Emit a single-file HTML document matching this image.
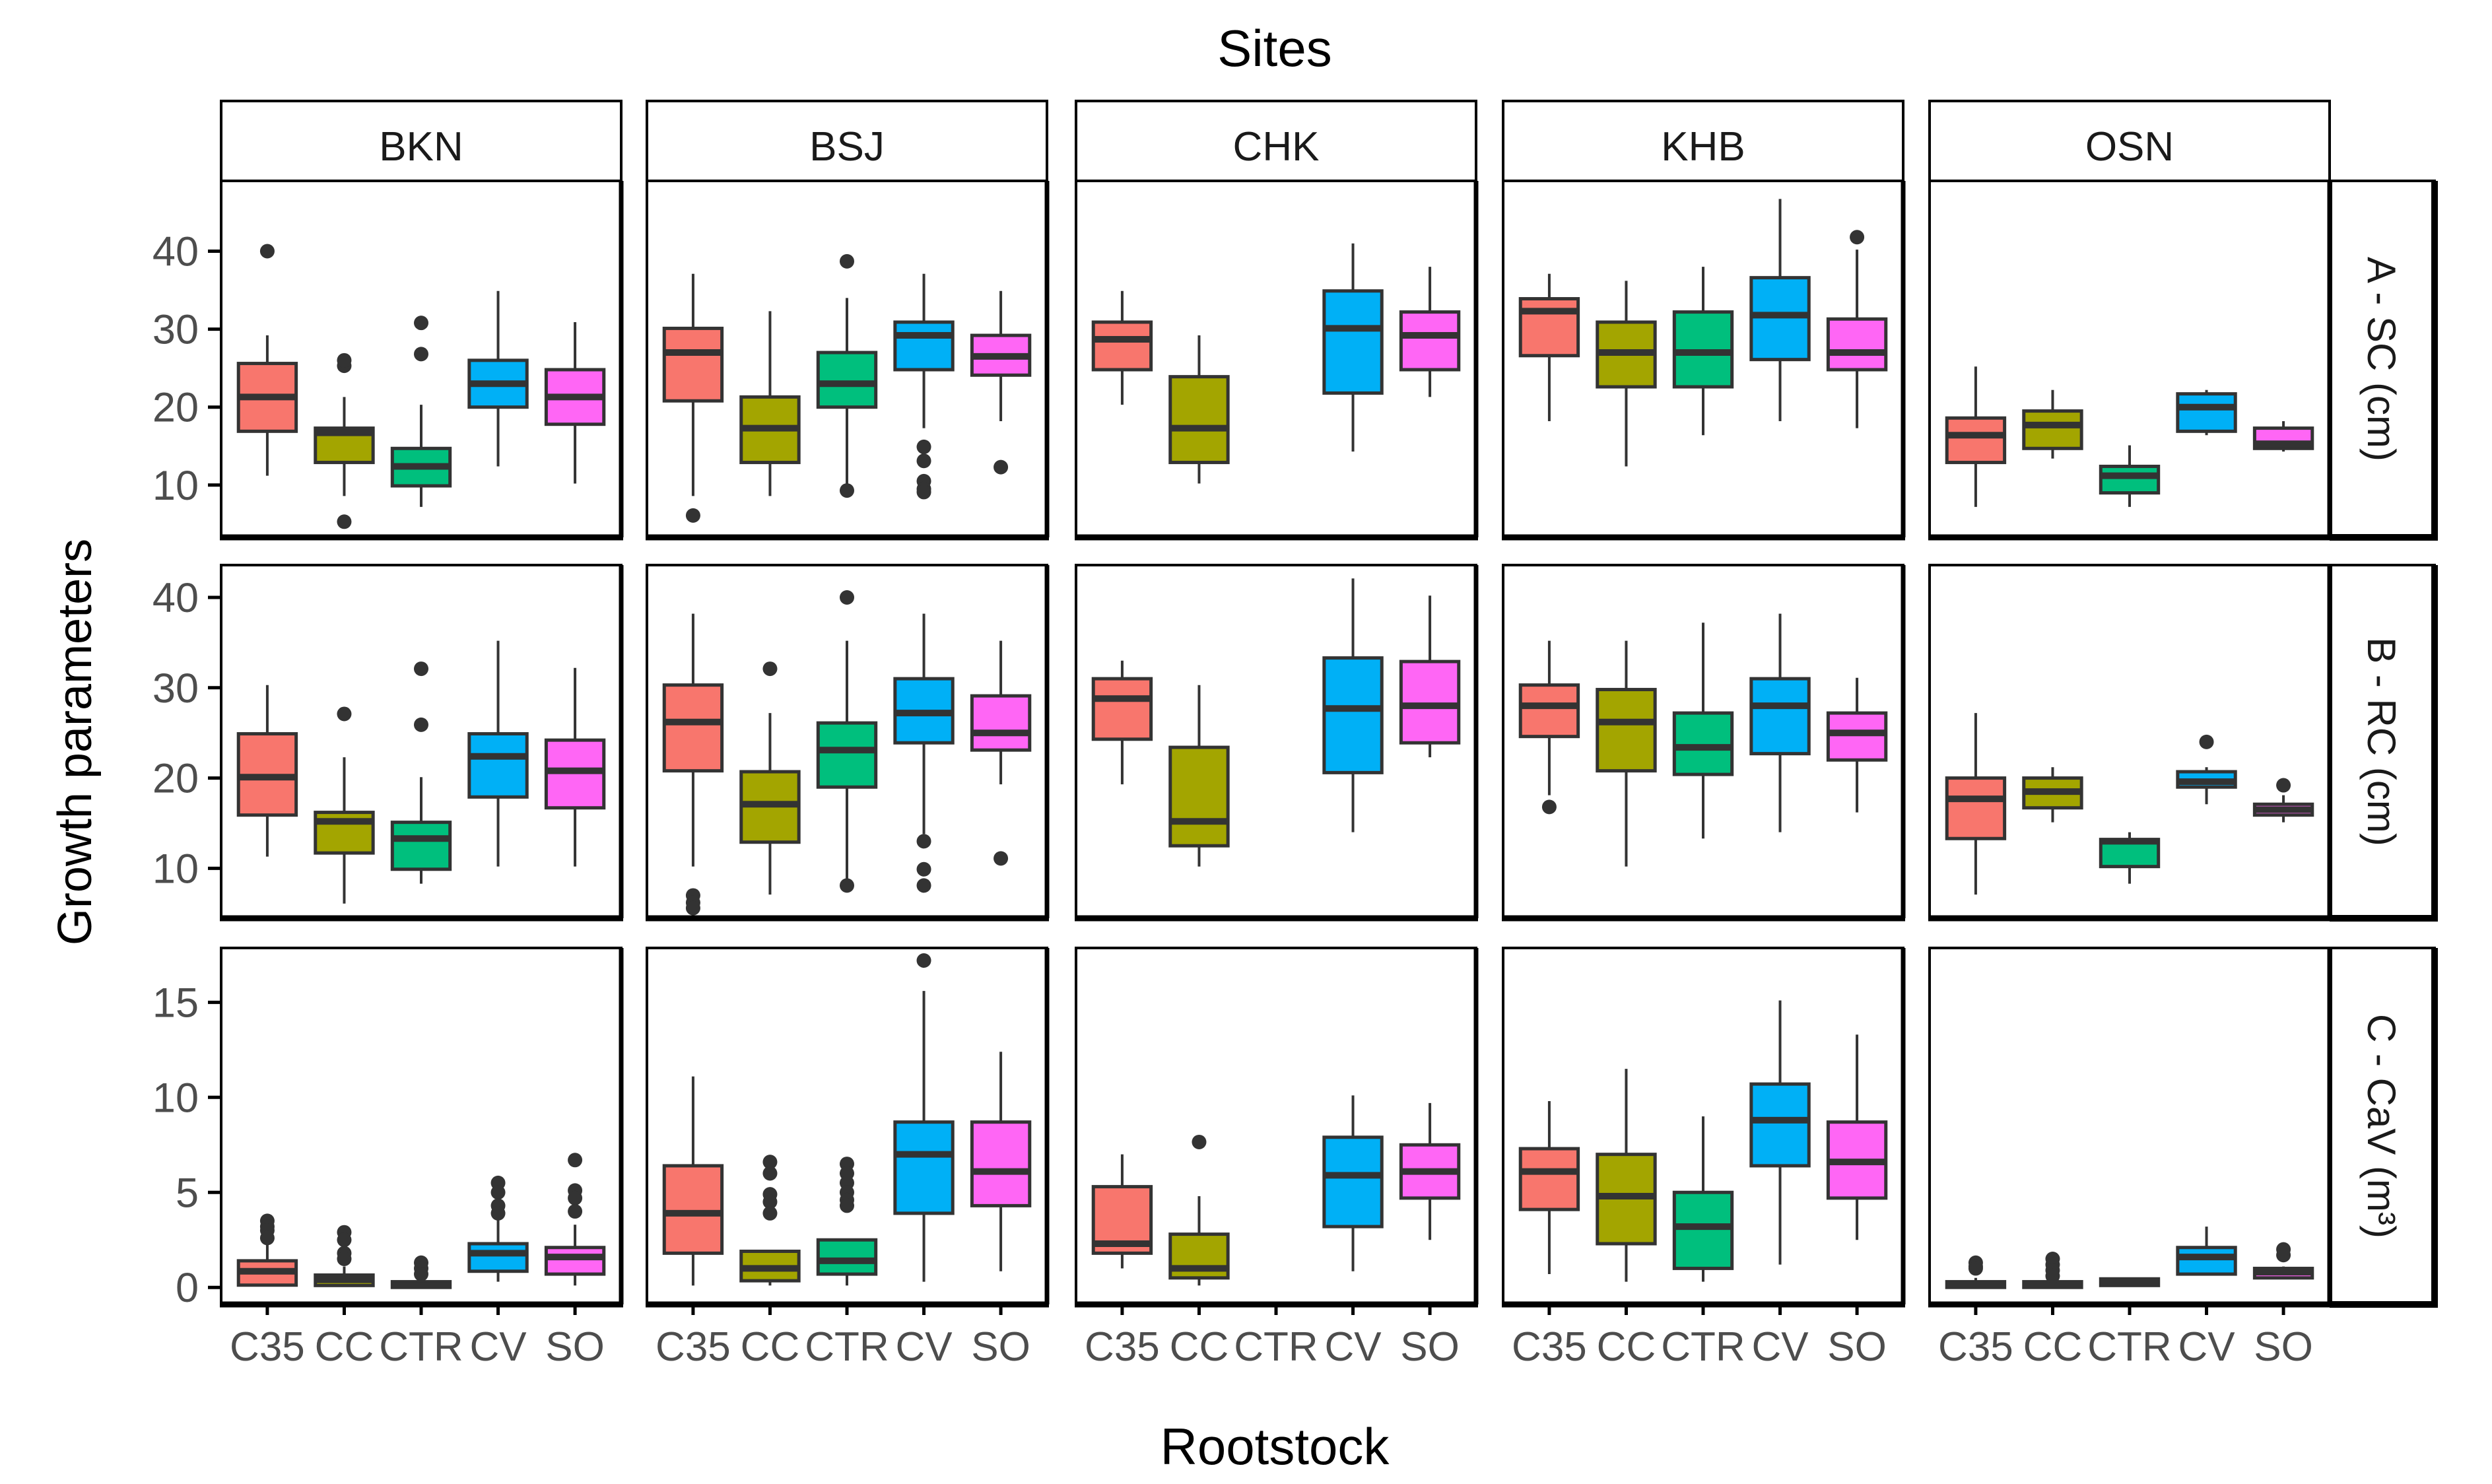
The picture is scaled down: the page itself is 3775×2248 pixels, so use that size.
<!DOCTYPE html>
<html><head><meta charset="utf-8">
<style>
html,body{margin:0;padding:0;background:#fff;}
svg{display:block;}
text{font-family:"Liberation Sans",sans-serif;}
</style></head>
<body>
<svg id="chart" width="3775" height="2248" viewBox="0 0 3775 2248" xmlns="http://www.w3.org/2000/svg">
<rect x="0" y="0" width="3775" height="2248" fill="#fff"/>
<text x="1931" y="100" font-size="78" text-anchor="middle" fill="#000">Sites</text>
<text x="1931" y="2218" font-size="78" text-anchor="middle" fill="#000">Rootstock</text>
<text x="0" y="0" font-size="72" text-anchor="middle" fill="#000" transform="translate(138,1124) rotate(-90)">Growth parameters</text>
<g id="plot"></g>
</svg>
<script>
const sites = ["BKN","BSJ","CHK","KHB","OSN"];
const categories = ["C35","CC","CTR","CV","SO"];
const rowLabels = ["A - SC (cm)","B - RC (cm)","C - CaV (m\u00b3)"];
const fills = ["#F8766D","#A3A500","#00BF7D","#00B0F6","#FF66F5"];

// Row A - SC: [site][category]
const scLow  = [[11.2,8.6,7.2,12.4,10.2],[8.6,8.6,9.3,17.3,18.2],[20.3,10.2,null,14.3,21.3],[18.2,12.4,16.4,18.2,17.3],[7.2,13.4,7.2,16.4,14.3]];
const scQ1   = [[16.9,12.9,9.9,20.0,17.8],[20.8,12.9,20.0,24.8,24.1],[24.8,12.9,null,21.8,24.8],[26.6,22.6,22.6,26.1,24.8],[12.9,14.7,9.0,16.9,14.7]];
const scMed  = [[21.3,16.7,12.4,23.0,21.3],[27.0,17.3,23.0,29.2,26.5],[28.7,17.3,null,30.1,29.2],[32.3,27.0,27.0,31.8,27.0],[16.4,17.7,11.2,20.0,15.3]];
const scQ3   = [[25.6,17.3,14.7,26.0,24.8],[30.1,21.3,27.0,30.9,29.2],[30.9,23.9,null,34.9,32.2],[33.9,30.9,32.2,36.6,31.3],[18.6,19.5,12.4,21.7,17.3]];
const scHigh = [[29.2,21.3,20.3,34.9,30.9],[37.1,32.3,34.0,37.1,34.9],[34.9,29.2,null,41.0,38.0],[37.1,36.2,38.0,46.7,40.2],[25.2,22.2,15.1,22.2,18.2]];
const scOut  = [[[40],[25.3,26,5.3],[30.8,26.8],[],[]],[[6.1],[],[38.7,9.3],[14.9,13.1,10.5,9.5,9.1],[12.3]],[[],[],[],[],[]],[[],[],[],[],[41.8]],[[],[],[],[],[]]];

// Row B - RC
const rcLow  = [[11.3,6.1,8.3,10.2,10.2],[10.2,7.1,8.1,13.8,19.3],[19.3,10.2,null,14.0,22.3],[18.1,10.2,13.3,14.0,16.2],[7.1,15.1,8.3,17.1,15.1]];
const rcQ1   = [[15.9,11.7,9.9,17.9,16.7],[20.8,12.9,19.0,23.9,23.1],[24.3,12.5,null,20.6,23.9],[24.6,20.8,20.4,22.7,22.0],[13.3,16.7,10.2,19.0,15.9]];
const rcMed  = [[20.1,15.2,13.3,22.4,20.8],[26.2,17.1,23.1,27.2,25.0],[28.8,15.2,null,27.7,28.0],[28.0,26.2,23.4,28.0,25.0],[17.7,18.5,13.0,19.6,16.5]];
const rcQ3   = [[24.9,16.2,15.1,24.9,24.2],[30.3,20.7,26.1,31.0,29.1],[31.0,23.4,null,33.3,32.9],[30.3,29.8,27.2,31.0,27.2],[20.0,20.0,13.2,20.7,17.1]];
const rcHigh = [[30.3,22.3,20.1,35.2,32.2],[38.2,27.2,35.2,38.2,35.2],[33.0,30.3,null,42.1,40.2],[35.2,35.2,37.2,38.2,31.1],[27.2,21.2,14.0,21.2,18.1]];
const rcOut  = [[[],[27.1],[32.1,25.9],[],[]],[[7.0,6.2,5.6],[32.1],[40.0,8.1],[13.0,9.9,8.1],[11.1]],[[],[],[],[],[]],[[16.8],[],[],[],[]],[[],[],[],[24.0],[19.2]]];

// Row C - CaV
const cvLow  = [[0.05,0.1,0.0,0.3,0.1],[0.1,0.1,0.1,0.3,0.85],[1.0,0.1,null,0.85,2.5],[0.7,0.3,0.3,1.2,2.5],[0.0,0.0,0.1,0.7,0.5]];
const cvQ1   = [[0.12,0.1,0.0,0.85,0.7],[1.8,0.35,0.7,3.9,4.3],[1.8,0.5,null,3.2,4.7],[4.1,2.3,1.0,6.4,4.7],[0.0,0.0,0.1,0.7,0.5]];
const cvMed  = [[0.85,0.4,0.1,1.8,1.6],[3.9,1.0,1.4,7.0,6.1],[2.3,1.0,null,5.9,6.1],[6.1,4.8,3.2,8.8,6.6],[0.15,0.15,0.3,1.6,0.8]];
const cvQ3   = [[1.4,0.65,0.3,2.3,2.1],[6.4,1.9,2.5,8.7,8.7],[5.3,2.8,null,7.9,7.5],[7.3,7.0,5.0,10.7,8.7],[0.3,0.3,0.45,2.1,1.0]];
const cvHigh = [[2.3,1.1,0.6,3.75,3.3],[11.1,1.9,2.5,15.6,12.4],[7.0,4.8,null,10.1,9.7],[9.8,11.5,9.0,15.1,13.3],[0.5,0.6,0.45,3.2,1.1]];
const cvOut  = [[[3.5,3.2,3.0,2.6],[2.9,2.5,1.8,1.5],[1.3,1.0,0.7],[5.5,5.0,4.3,3.9],[6.7,5.1,4.7,4.0]],
                [[],[6.6,6.0,4.9,4.5,3.9],[6.5,6.0,5.5,5.0,4.6,4.3],[17.2],[]],
                [[],[7.65],[],[],[]],
                [[],[],[],[],[]],
                [[1.3,1.1,1.0],[1.5,1.2,0.9,0.6],[],[],[2.0,1.7]]];

const yTicksA = [10,20,30,40];
const yTicksB = [10,20,30,40];
const yTicksC = [0,5,10,15];

const NS = "http://www.w3.org/2000/svg";
const g = document.getElementById("plot");
function mk(tag, attrs, parent){
  const e = document.createElementNS(NS, tag);
  for (const k in attrs) e.setAttribute(k, attrs[k]);
  (parent||g).appendChild(e);
  return e;
}

const colLeft = [335, 980, 1630, 2277, 2923];
const panelW = 606;
const rowTop = [274, 856, 1436];
const rowBot = [814, 1391, 1976];
// y scales (pixel at reference value, px per unit)
const yRef = [{v:40,p:380.5,k:11.81},{v:40,p:905,k:13.68},{v:0,p:1950.2,k:28.79}];
function yScale(r, v){ return yRef[r].p - (v - yRef[r].v) * yRef[r].k; }
function xScale(c, i){ return colLeft[c] + (0.6 + i) * panelW / 5.2; }
const boxW = 0.75 * panelW / 5.2;

const rowsData = [
  {low:scLow,q1:scQ1,med:scMed,q3:scQ3,high:scHigh,out:scOut,ticks:yTicksA},
  {low:rcLow,q1:rcQ1,med:rcMed,q3:rcQ3,high:rcHigh,out:rcOut,ticks:yTicksB},
  {low:cvLow,q1:cvQ1,med:cvMed,q3:cvQ3,high:cvHigh,out:cvOut,ticks:yTicksC}
];

// top strips
sites.forEach((s, c) => {
  const r = mk("rect", {x:colLeft[c], y:153, width:panelW, height:rowTop[0]-153, fill:"#fff", stroke:"#000", "stroke-width":4});
  
  
  const t = mk("text", {x:colLeft[c]+panelW/2, y:243, "font-size":62, "text-anchor":"middle", fill:"#1a1a1a"});
  t.textContent = s;
  
  
});

rowsData.forEach((D, r) => {
  const top = rowTop[r], bot = rowBot[r];
  // right strip
  const rs = mk("rect", {x:3531, y:top, width:157, height:bot-top, fill:"#fff", stroke:"#000", "stroke-width":4});
  
  
  mk("line", {x1:3688, y1:top, x2:3688, y2:bot+4, stroke:"#000", "stroke-width":10});
  mk("line", {x1:3529, y1:bot, x2:3693, y2:bot, stroke:"#000", "stroke-width":10});
  const rl = mk("text", {x:0, y:0, "font-size":60, "text-anchor":"middle", fill:"#1a1a1a",
    transform:"translate(3587," + ((top+bot)/2) + ") rotate(90)"});
  rl.textContent = rowLabels[r];
  
  

  // y ticks
  D.ticks.forEach(v => {
    const y = yScale(r, v);
    const tk = mk("line", {x1:315, y1:y, x2:335, y2:y, stroke:"#000", "stroke-width":5});
    
    
    const tl = mk("text", {x:301, y:y+22, "font-size":63, "text-anchor":"end", fill:"#4d4d4d"});
    tl.textContent = v;
    
    
  });

  sites.forEach((s, c) => {
    const pg = mk("g", {});
    
    
    mk("rect", {x:colLeft[c], y:top, width:panelW, height:bot-top, fill:"#fff", stroke:"#000", "stroke-width":4}, pg);
    mk("line", {x1:colLeft[c]+panelW, y1:top, x2:colLeft[c]+panelW, y2:bot, stroke:"#000", "stroke-width":7}, pg);
    mk("line", {x1:colLeft[c]-2, y1:bot, x2:colLeft[c]+panelW+3, y2:bot, stroke:"#000", "stroke-width":9}, pg);

    categories.forEach((cat, i) => {
      if (D.med[c][i] === null) return;
      const x = xScale(c, i);
      const bg = mk("g", {}, pg);
      
      
      mk("line", {x1:x, y1:yScale(r, D.high[c][i]), x2:x, y2:yScale(r, D.q3[c][i]), stroke:"#333", "stroke-width":4}, bg);
      mk("line", {x1:x, y1:yScale(r, D.q1[c][i]), x2:x, y2:yScale(r, D.low[c][i]), stroke:"#333", "stroke-width":4}, bg);
      const yq3 = yScale(r, D.q3[c][i]), yq1 = yScale(r, D.q1[c][i]);
      mk("rect", {x:x-boxW/2, y:yq3, width:boxW, height:Math.max(yq1-yq3, 0.5), fill:fills[i], stroke:"#333", "stroke-width":5}, bg);
      const ym = yScale(r, D.med[c][i]);
      mk("line", {x1:x-boxW/2, y1:ym, x2:x+boxW/2, y2:ym, stroke:"#333", "stroke-width":10}, bg);
      D.out[c][i].forEach(v => {
        const o = mk("circle", {cx:x, cy:yScale(r, v), r:11, fill:"#333"}, bg);
        
        
      });
    });

    if (r === 2) {
      categories.forEach((cat, i) => {
        const x = xScale(c, i);
        const xt = mk("line", {x1:x, y1:bot+4, x2:x, y2:bot+16, stroke:"#000", "stroke-width":5});
        
        
        const xl = mk("text", {x:x, y:2061, "font-size":62, "text-anchor":"middle", fill:"#4d4d4d"});
        xl.textContent = cat;
        
        
      });
    }
  });
});
</script>
</body></html>
